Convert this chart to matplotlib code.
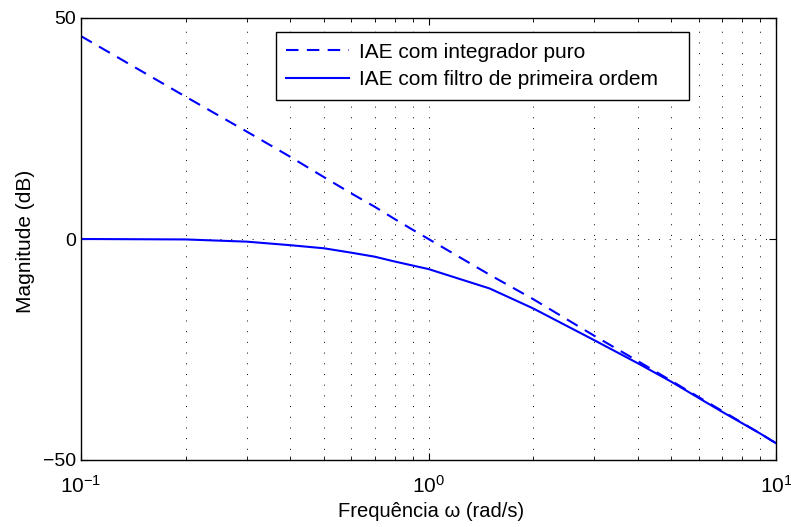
import numpy as np
import matplotlib
matplotlib.use("Agg")
import matplotlib.pyplot as plt
from matplotlib.ticker import LogLocator, NullFormatter, FixedLocator

plt.rcParams['font.family'] = ['Liberation Sans', 'DejaVu Sans']
plt.rcParams['mathtext.fontset'] = 'custom'
plt.rcParams['mathtext.rm'] = 'Liberation Sans'
plt.rcParams['mathtext.it'] = 'Liberation Sans'

# Frequencias (rad/s)
w = [0.1, 0.2, 0.3, 0.4, 0.5, 0.6, 0.7, 0.8, 0.9, 1.0,
     1.5, 2.0, 3.0, 4.0, 5.0, 6.0, 7.0, 8.0, 9.0, 10.0]

# Magnitude (dB) - integrador puro
mag_integrador = [45.9, 32.2, 24.3, 18.6, 14.0, 10.3, 7.3, 4.5, 2.1, 0.0,
                  -8.1, -13.6, -21.9, -27.6, -32.1, -35.8, -38.9, -41.6, -44.0, -46.2]

# Magnitude (dB) - filtro de primeira ordem
mag_filtro = [0.0, -0.1, -0.6, -1.4, -2.1, -3.1, -4.0, -5.1, -6.0, -6.8,
              -11.2, -15.7, -22.9, -28.1, -32.3, -36.0, -39.1, -41.7, -44.0, -46.2]

fig = plt.figure(figsize=(7.91, 5.27), dpi=100)
ax = fig.add_axes([81/791, 67/527, 695/791, 442/527])

ax.semilogx(w, mag_integrador, '--', color='#0000ff', linewidth=1.5, dashes=(6, 4),
            label='IAE com integrador puro')
ax.semilogx(w, mag_filtro, '-', color='#0000ff', linewidth=1.5,
            label='IAE com filtro de primeira ordem')

ax.set_xlim(0.1, 10)
ax.set_ylim(-50, 50)
ax.yaxis.set_major_locator(FixedLocator([-50, 0, 50]))
ax.xaxis.set_major_locator(LogLocator(base=10))
ax.xaxis.set_minor_locator(LogLocator(base=10, subs=np.arange(2, 10)))
ax.xaxis.set_minor_formatter(NullFormatter())

# grade pontilhada estilo MATLAB
grid_ls = (0, (1, 10))
ax.grid(True, which='major', linestyle=grid_ls, color='black', linewidth=0.7)
ax.grid(True, which='minor', axis='x', linestyle=grid_ls, color='black', linewidth=0.7)

ax.tick_params(which='both', direction='in', top=True, right=True)
ax.tick_params(which='major', length=5)
ax.tick_params(which='minor', length=3)
ax.tick_params(axis='x', which='major', pad=11, labelsize=15)
ax.tick_params(axis='y', which='major', pad=3.6, labelsize=14)
for s in ax.spines.values():
    s.set_linewidth(1.0)

ax.set_xlabel('Frequência ω (rad/s)', fontsize=14.5)
ax.set_ylabel('Magnitude (dB)', fontsize=15)
ax.xaxis.set_label_coords(0.504, -0.095)
ax.yaxis.set_label_coords(-0.066, 0.494)

# legenda com espaco extra a direita, como no MATLAB
leg = ax.legend(loc='upper left', bbox_to_anchor=(0.2806, 0.0, 0.5942, 0.968),
                mode='expand', fontsize=15, fancybox=False, framealpha=1,
                edgecolor='black', handlelength=3.0, borderaxespad=0,
                borderpad=0.5, labelspacing=0.42, handletextpad=0.5)
leg.get_frame().set_linewidth(1.0)

fig.savefig('out.png', dpi=100)
